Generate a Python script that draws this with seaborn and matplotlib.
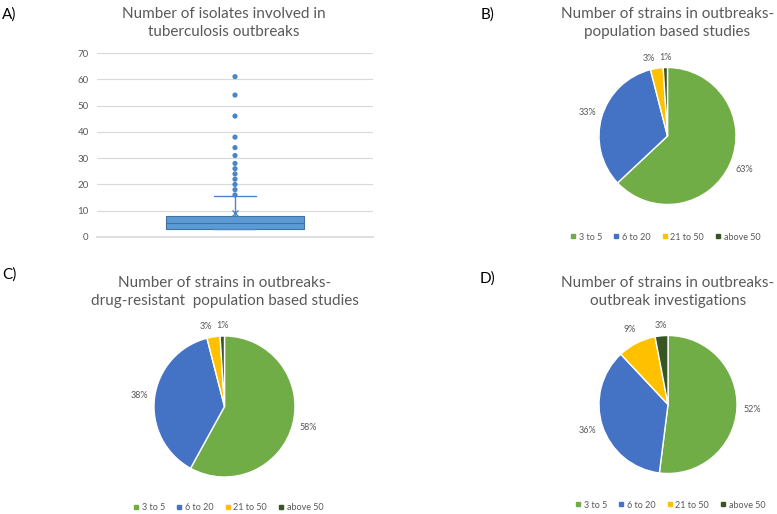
import matplotlib
matplotlib.use("Agg")
import matplotlib.pyplot as plt
from matplotlib.lines import Line2D
import seaborn as sns

# Panel A: box plot summary
box_q1 = 3
box_median = 5.5
box_q3 = 8
box_whisker_high = 15.5
box_mean = 9.3
outliers = [16, 18, 20, 22, 24, 26, 28, 31, 34, 38, 46, 54, 61]

# Pie panels
categories = ["3 to 5", "6 to 20", "21 to 50", "above 50"]
pie_b = [63, 33, 3, 1]
pie_c = [58, 38, 3, 1]
pie_d = [52, 36, 9, 3]
colors = ["#70AD47", "#4472C4", "#FFC000", "#375623"]

sns.set_theme(style="white")
plt.rcParams["font.family"] = ["Lato", "DejaVu Sans"]

W, H = 777, 514
fig = plt.figure(figsize=(W / 100, H / 100), dpi=100)
gray = "#595959"


def px_axes(x0, y0, x1, y1):
    # pixel box (top-left origin) -> figure axes
    return fig.add_axes([x0 / W, 1 - y1 / H, (x1 - x0) / W, (y1 - y0) / H])


# ---- A) box plot
ax = px_axes(97, 53, 373, 237)
stats = [{"med": box_median, "q1": box_q1, "q3": box_q3,
          "whislo": box_q1, "whishi": box_whisker_high,
          "mean": box_mean, "fliers": []}]
ax.bxp(stats, positions=[0], widths=0.5, showmeans=True, patch_artist=True,
       capwidths=0.15, showfliers=False,
       boxprops=dict(facecolor="#5B9BD5", edgecolor="#41719C", linewidth=0.8),
       medianprops=dict(color="#41719C", linewidth=0.8),
       whiskerprops=dict(color="#4A86C5", linewidth=1),
       capprops=dict(color="#4A86C5", linewidth=1),
       meanprops=dict(marker="x", markeredgecolor="#4A86C5", markersize=5))
sns.scatterplot(x=[0] * len(outliers), y=outliers, ax=ax, color="#4A86C5",
                s=14, edgecolor="none", zorder=5)
ax.set_xlim(-0.5, 0.5)
ax.set_ylim(0, 70)
ax.set_yticks(range(0, 71, 10))
ax.set_xticks([])
ax.yaxis.grid(True, color="#D9D9D9", linewidth=0.8)
ax.set_axisbelow(True)
for s in ["left", "right", "top"]:
    ax.spines[s].set_visible(False)
ax.spines["bottom"].set_color("#D9D9D9")
ax.tick_params(axis="y", labelsize=7, labelcolor=gray, length=0, pad=6)
ax.set_xlabel("")
ax.set_ylabel("")
fig.text(224 / W, 1 - 23 / H, "Number of isolates involved in\ntuberculosis outbreaks",
         ha="center", va="center", fontsize=11, color=gray, linespacing=1.3)


# ---- pies
def draw_pie(cx, cy, r, values, title, title_y, legend_y, legend_x):
    a = px_axes(cx - r, cy - r, cx + r, cy + r)
    wedges, texts, autotexts = a.pie(
        values, colors=colors, startangle=90, counterclock=False,
        autopct="%1.0f%%", pctdistance=1.22, radius=1,
        wedgeprops=dict(edgecolor="white", linewidth=1))
    for i, t in enumerate(autotexts):
        t.set_fontsize(6.5)
        t.set_color(gray)
        if values[i] < 5:
            # small slices: labels sit closer and are spread apart
            x, y = t.get_position()
            x, y = x / 1.22 * 1.15, y / 1.22 * 1.15
            if i + 1 < len(values) and values[i + 1] < 5:
                x -= 0.09
            t.set_position((x, y))
    a.set_xlim(-1, 1)
    a.set_ylim(-1, 1)
    a.set_aspect("equal")
    a.axis("off")
    fig.text(cx / W, 1 - title_y / H, title, ha="center", va="center",
             fontsize=11, color=gray, linespacing=1.3)
    handles = [Line2D([], [], marker="s", linestyle="", color=c, markersize=3.5)
               for c in colors]
    fig.legend(handles, categories, loc="center", ncol=4, frameon=False,
               bbox_to_anchor=(legend_x / W, 1 - legend_y / H), fontsize=6.5,
               labelcolor=gray, handletextpad=0.2, columnspacing=1.2,
               handlelength=0.8)


draw_pie(667.5, 136, 68.5, pie_b, "Number of strains in outbreaks-\npopulation based studies",
         23, 237, 665)
draw_pie(224.5, 406.5, 70.5, pie_c,
         "Number of strains in outbreaks-\ndrug-resistant  population based studies",
         292, 508, 228)
draw_pie(668, 404.5, 69, pie_d, "Number of strains in outbreaks-\noutbreak investigations",
         292, 505, 670)

# panel letters
for lab, x, y in [("A)", 2, 15), ("B)", 481, 15), ("C)", 2, 275), ("D)", 480, 279)]:
    fig.text(x / W, 1 - y / H, lab, ha="left", va="center", fontsize=11, color="black")

fig.savefig("out.png", dpi=100)
